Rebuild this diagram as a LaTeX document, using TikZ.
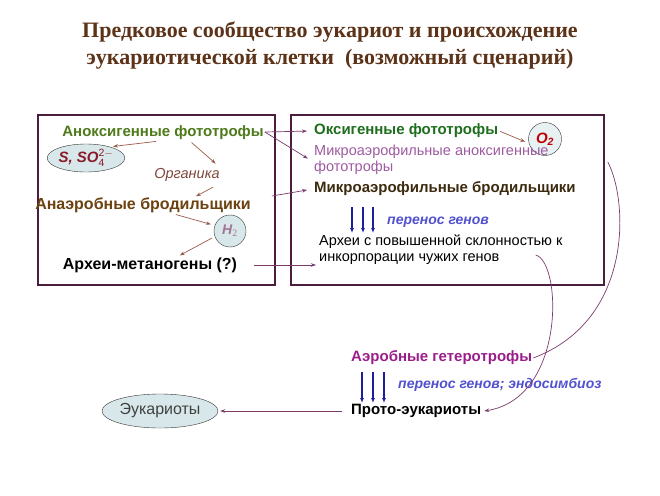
\documentclass[tikz,border=0pt]{standalone}
\usepackage{fontspec}
\setmainfont{Liberation Serif}
\setsansfont{Liberation Sans}
\usetikzlibrary{shapes.geometric,arrows.meta}

\definecolor{boxc}{HTML}{4A1E3C}
\definecolor{titlec}{HTML}{5C3318}
\definecolor{anoxc}{HTML}{4E7A1A}
\definecolor{oxyc}{HTML}{1E6E1E}
\definecolor{anaerc}{HTML}{6B4210}
\definecolor{microfc}{HTML}{3C2A0E}
\definecolor{aerc}{HTML}{9A1E8A}
\definecolor{lilac}{HTML}{9E5AA0}
\definecolor{brarr}{HTML}{9C5A4A}
\definecolor{conc}{HTML}{7A3A6A}
\definecolor{genc}{HTML}{1E1E9A}
\definecolor{gentxt}{HTML}{5050D0}
\definecolor{ellc}{HTML}{D8E8EA}
\definecolor{redb}{HTML}{8A1A2A}

\begin{document}
\begin{tikzpicture}[x=1pt,y=-1pt,
  frame/.style={draw=boxc,line width=1.6pt,inner sep=0pt},
  lbl/.style={font=\sffamily\bfseries\fontsize{15}{18}\selectfont,inner sep=1pt},
  biglbl/.style={font=\sffamily\bfseries\fontsize{16}{19}\selectfont,inner sep=1pt},
  plain/.style={font=\sffamily\fontsize{14.5}{15.5}\selectfont,inner sep=1pt,align=left},
  gtxt/.style={font=\sffamily\bfseries\itshape\fontsize{14}{16}\selectfont,text=gentxt,inner sep=1pt},
  blob/.style={ellipse,draw=black!80,fill=ellc,inner sep=0pt},
  barr/.style={draw=brarr,line width=0.7pt,-{Stealth[length=5pt,width=3.5pt]}},
  conn/.style={draw=conc,line width=0.7pt,-{Stealth[length=5pt,width=3.5pt]}},
  gene/.style={draw=genc,line width=1.6pt,-{Latex[length=5pt,width=4pt]}}]
\useasboundingbox (0,0) rectangle (660,495);

\node[font=\bfseries\fontsize{22}{27}\selectfont,text=titlec,align=center] (title) at (330,45)
  {Предковое сообщество эукариот и происхождение\\эукариотической клетки\ \ (возможный сценарий)};

\node[frame,minimum width=237pt,minimum height=170pt] (lbox) at (156.5,200) {};
\node[frame,minimum width=313pt,minimum height=170pt] (rbox) at (447.5,200) {};

\node[lbl,text=anoxc] (anox) at (163,133) {Аноксигенные фототрофы};
\node[blob,minimum width=72pt,minimum height=28pt,font=\sffamily\bfseries\itshape\fontsize{15}{17}\selectfont,text=redb] (sulf) at (86,158)
  {S, SO$^{\mathsf{2-}}_{\mathsf{4}}$};
\node[font=\sffamily\itshape\fontsize{14.5}{17}\selectfont,text=brarr!80!black] (org) at (187,175) {Органика};
\node[biglbl,text=anaerc] (anaer) at (143,205) {Анаэробные бродильщики};
\node[circle,draw=black!80,fill=ellc,minimum size=32pt,inner sep=0pt,font=\sffamily\bfseries\itshape\fontsize{14}{16}\selectfont,text=conc!70] (htwo) at (230,231)
  {H\textsubscript{\normalfont 2}};
\node[biglbl,text=black] (meth) at (150,265) {Археи-метаногены (?)};

\node[lbl,text=oxyc,anchor=west] (oxy) at (313,131) {Оксигенные фототрофы};
\node[circle,draw=black!80,fill=ellc!60,minimum size=33pt,inner sep=0pt,font=\sffamily\bfseries\itshape\fontsize{15}{17}\selectfont,text=red!75!black] (otwo) at (545,139)
  {O\textsubscript{2}};
\node[plain,text=lilac,anchor=north west] (mtroph) at (313,144) {Микроаэрофильные аноксигенные\\фототрофы};
\node[lbl,text=microfc,anchor=west] (microf) at (313,189) {Микроаэрофильные бродильщики};
\node[gtxt,anchor=west] (gtr) at (386,222) {перенос генов};
\node[plain,text=black,anchor=north west] (arch) at (318,234) {Археи с повышенной склонностью к\\инкорпорации чужих генов};

\node[lbl,text=aerc,anchor=west] (aer) at (350,358) {Аэробные гетеротрофы};
\node[gtxt,anchor=west] (endo) at (397,385) {перенос генов; эндосимбиоз};
\node[lbl,text=black,anchor=west] (proto) at (350,411) {Прото-эукариоты};
\node[blob,minimum width=116pt,minimum height=34pt,font=\sffamily\fontsize{16}{18}\selectfont,text=black!75] (euk) at (160,411) {Эукариоты};

\draw[barr,shorten <=2pt,shorten >=3pt] ([xshift=-5pt]anox.south) -- (sulf.25);
\draw[barr,shorten <=2pt,shorten >=2pt] ([xshift=27pt]anox.south) -- ([xshift=-6pt]org.north east);
\draw[barr] ([xshift=-10pt,yshift=-2pt]org.south east) -- ([xshift=-56pt]anaer.north east);
\draw[barr,shorten <=3pt,shorten >=4pt] ([xshift=30pt]anaer.south) -- (htwo.160);
\draw[barr,shorten <=3pt,shorten >=2pt] (htwo.200) -- ([xshift=28pt]meth.north);
\draw[barr,shorten <=1pt,shorten >=4pt] (oxy.east) -- (otwo.195);

\draw[conn,shorten >=6pt] ([yshift=1pt]anox.east) -- (oxy.west);
\draw[conn,shorten >=6pt] ([yshift=1pt]anox.east) -- ([yshift=-2pt]mtroph.west);
\draw[conn,shorten >=6pt] ([shift={(20,-9)}]anaer.east) -- (microf.west);
\draw[conn,shorten <=16pt,shorten >=2pt] (meth.east) -- (arch.south west |- meth.east);

\foreach \x in {352,363,373}
  \draw[gene] (\x,207) -- (\x,233);
\foreach \x in {362,373,384}
  \draw[gene] (\x,372) -- (\x,403);

\draw[conn,-] ([shift={(3,-38)}]rbox.east) .. controls (628,200) and (634,320) .. (aer.east);
\draw[conn] ([shift={(-28,21)}]arch.north east) .. controls (562,262) and (566,398) .. ([xshift=2pt]proto.east);
\draw[conn,shorten <=8pt,shorten >=2pt] (proto.west) -- (euk.east);
\end{tikzpicture}
\end{document}
